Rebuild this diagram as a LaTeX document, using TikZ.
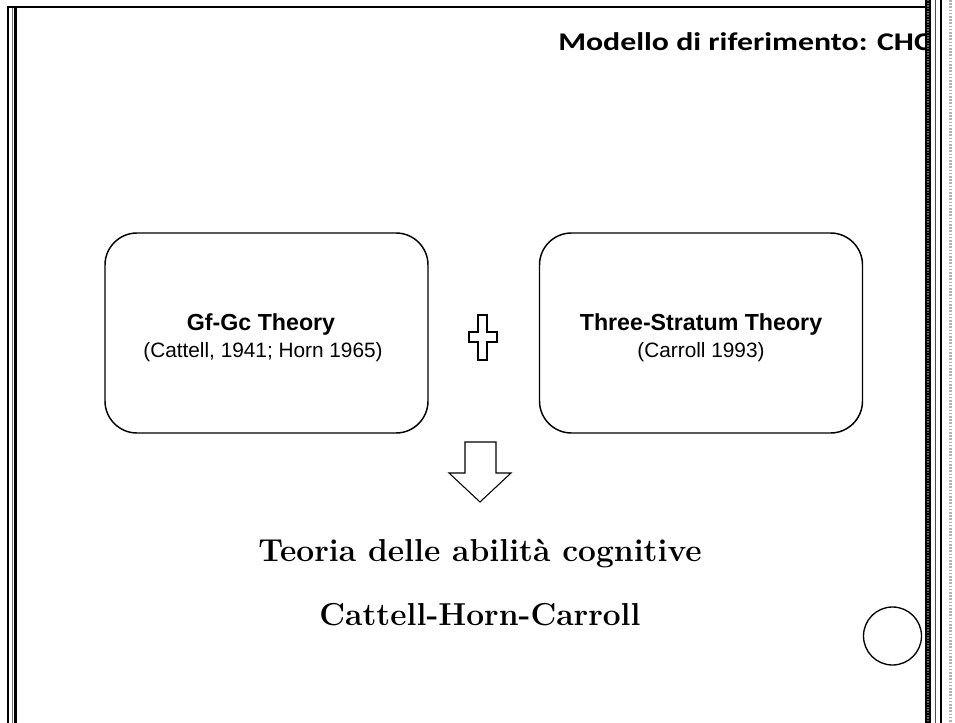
\documentclass[tikz,border=0pt]{standalone}
\usepackage{fontspec}
\newfontfamily\carlito{Carlito}
\newfontfamily\arialf{Liberation Sans}
\newcommand\hstr[1]{\scalebox{1.25}[1]{#1}}
\tikzset{
  theorybox/.style={draw=black, line width=1.1pt, rounded corners=24pt, minimum width=242.25pt, minimum height=150pt, inner sep=0pt},
  boxtitle/.style={anchor=base, inner sep=0pt, font=\arialf\bfseries\fontsize{17.4}{20}\selectfont},
  boxsub/.style={anchor=base, inner sep=0pt, font=\arialf\fontsize{15.6}{18}\selectfont},
  bigserif/.style={anchor=base, inner sep=0pt, font=\bfseries\fontsize{23.8}{28}\selectfont},
  outline/.style={draw=black, line width=1.1pt, line join=miter, fill=white},
}
\begin{document}
\begin{tikzpicture}[x=0.75pt, y=-0.75pt]
\useasboundingbox (0,0) rectangle (955,723);
\fill[white] (0,0) rectangle (955,723);

% title (clipped by the right band)
\node[anchor=base west, inner sep=0pt, font=\carlito\bfseries\fontsize{19.1}{22}\selectfont] (title) at (558,51) {\hstr{Modello di riferimento: CHC}};

% frame lines
\draw[line width=1.6pt] (7,7) -- (931,7);
\draw[line width=1.5pt] (8,6) -- (8,723);
\draw[line width=0.8pt, black!55] (12.5,8) -- (12.5,723);
\draw[line width=2.2pt] (15.5,8) -- (15.5,723);
\fill[black] (925,0) rectangle (931,723);
\draw[line width=0.8pt, black!60, dash pattern=on 1pt off 1pt] (928,0) -- (928,723);
\draw[line width=0.8pt, black!70] (935.5,0) -- (935.5,723);
\draw[line width=1.8pt] (941,0) -- (941,723);
\draw[line width=2.2pt, black!30, dash pattern=on 1.2pt off 1.2pt] (950.5,0) -- (950.5,723);

% boxes
\node[theorybox] (gfgc) at (266.5,333) {};
\node[theorybox] (three) at (701,333) {};
\node[boxtitle] (gfgct) at (261,330) {Gf-Gc Theory};
\node[boxsub] (gfgcs) at (263,357) {(Cattell, 1941; Horn 1965)};
\node[boxtitle] (threet) at (701,330) {Three-Stratum Theory};
\node[boxsub] (threes) at (701,357) {(Carroll 1993)};

% plus sign
\draw[outline, line width=0.9pt] (478,315) -- (487,315) -- (487,332) -- (497,332) -- (497,342) -- (487,342) -- (487,360) -- (478,360) -- (478,342) -- (469,342) -- (469,332) -- (478,332) -- cycle;

% down arrow
\draw[outline, line width=0.8pt] (465,442) -- (496,442) -- (496,473) -- (511,473) -- (480,502) -- (449,473) -- (465,473) -- cycle;

% result text
\node[bigserif] (teoria) at (480,561) {Teoria delle abilità cognitive};
\node[bigserif] (chc) at (480,625) {Cattell-Horn-Carroll};

% circle
\node[draw=black, line width=1pt, circle, minimum size=43.5pt, inner sep=0pt] (circ) at (892.5,636) {};
\end{tikzpicture}
\end{document}
